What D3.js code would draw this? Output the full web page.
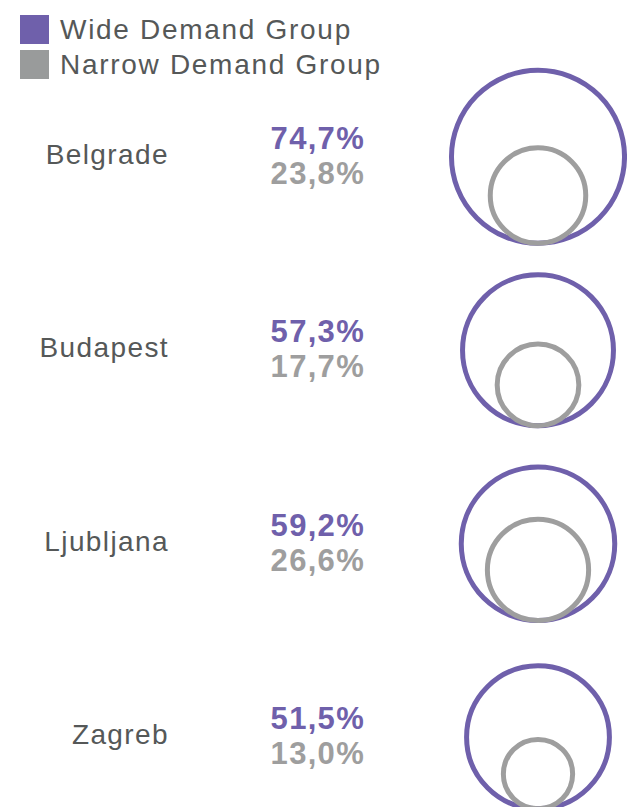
<!DOCTYPE html>
<html>
<head>
<meta charset="utf-8">
<script src="https://cdn.jsdelivr.net/npm/d3@7"></script>
<style>
  body { margin: 0; background: #fff; }
  text { font-family: "Liberation Sans", Arial, sans-serif; }
</style>
</head>
<body>
<div id="chart"></div>
<script>
// **** THE DATA ****
const cities = ["Belgrade", "Budapest", "Ljubljana", "Zagreb"]
const wideDemand = [74.7, 57.3, 59.2, 51.5]
const narrowDemand = [23.8, 17.7, 26.6, 13.0]
const legendLabels = ["Wide Demand Group", "Narrow Demand Group"]

// **** THE SETUP ****
const width = 627
const height = 807
const purple = "#6f60ab"
const grey = "#9e9e9e"
const stroke = 5

// row centres, one band per city
const yScale = d3.scaleBand()
    .domain(cities)
    .range([60, 834])

// circle area follows the share
const rScale = d3.scaleSqrt()
    .domain([0, 100])
    .range([0, 103])

const fmt = (v) => d3.format(".1f")(v).replace(".", ",") + "%"

const svg = d3.select("#chart").append("svg")
    .attr("width", width)
    .attr("height", height)

// --> LEGEND
const legend = svg.selectAll(".legend")
    .data(legendLabels)
  .enter().append("g")
    .attr("class", "legend")
    .attr("transform", (d, i) => "translate(20," + (15 + i * 35) + ")")

legend.append("rect")
    .attr("width", 29)
    .attr("height", 29)
    .attr("fill", (d, i) => i == 0 ? purple : "#999b9b")

legend.append("text")
    .attr("x", 40)
    .attr("y", 24)
    .attr("font-size", 28)
    .attr("letter-spacing", 1.7)
    .attr("fill", "#555858")
    .text((d) => d)

// --> ROWS
const rows = svg.selectAll(".row")
    .data(cities)
  .enter().append("g")
    .attr("class", "row")
    .attr("transform", (d) => "translate(0," + (yScale(d) + yScale.bandwidth() / 2) + ")")

rows.append("text")
    .attr("x", 169)
    .attr("y", 7)
    .attr("text-anchor", "end")
    .attr("font-size", 28)
    .attr("letter-spacing", 1.4)
    .attr("fill", "#555858")
    .text((d) => d)

rows.append("text")
    .attr("x", 365)
    .attr("y", -8)
    .attr("text-anchor", "end")
    .attr("font-size", 31)
    .attr("font-weight", "bold")
    .attr("letter-spacing", 1.3)
    .attr("fill", purple)
    .text((d, i) => fmt(wideDemand[i]))

rows.append("text")
    .attr("x", 365)
    .attr("y", 27)
    .attr("text-anchor", "end")
    .attr("font-size", 31)
    .attr("font-weight", "bold")
    .attr("letter-spacing", 1.3)
    .attr("fill", grey)
    .text((d, i) => fmt(narrowDemand[i]))

// outer circle, centred on the row
rows.append("circle")
    .attr("cx", 538)
    .attr("cy", 0)
    .attr("r", (d, i) => rScale(wideDemand[i]) - stroke / 2)
    .attr("fill", "none")
    .attr("stroke", purple)
    .attr("stroke-width", stroke)

// inner circle sits on the bottom of the outer one
rows.append("circle")
    .attr("cx", 538)
    .attr("cy", (d, i) => rScale(wideDemand[i]) - rScale(narrowDemand[i]))
    .attr("r", (d, i) => rScale(narrowDemand[i]) - stroke / 2)
    .attr("fill", "none")
    .attr("stroke", grey)
    .attr("stroke-width", stroke)
</script>
</body>
</html>
